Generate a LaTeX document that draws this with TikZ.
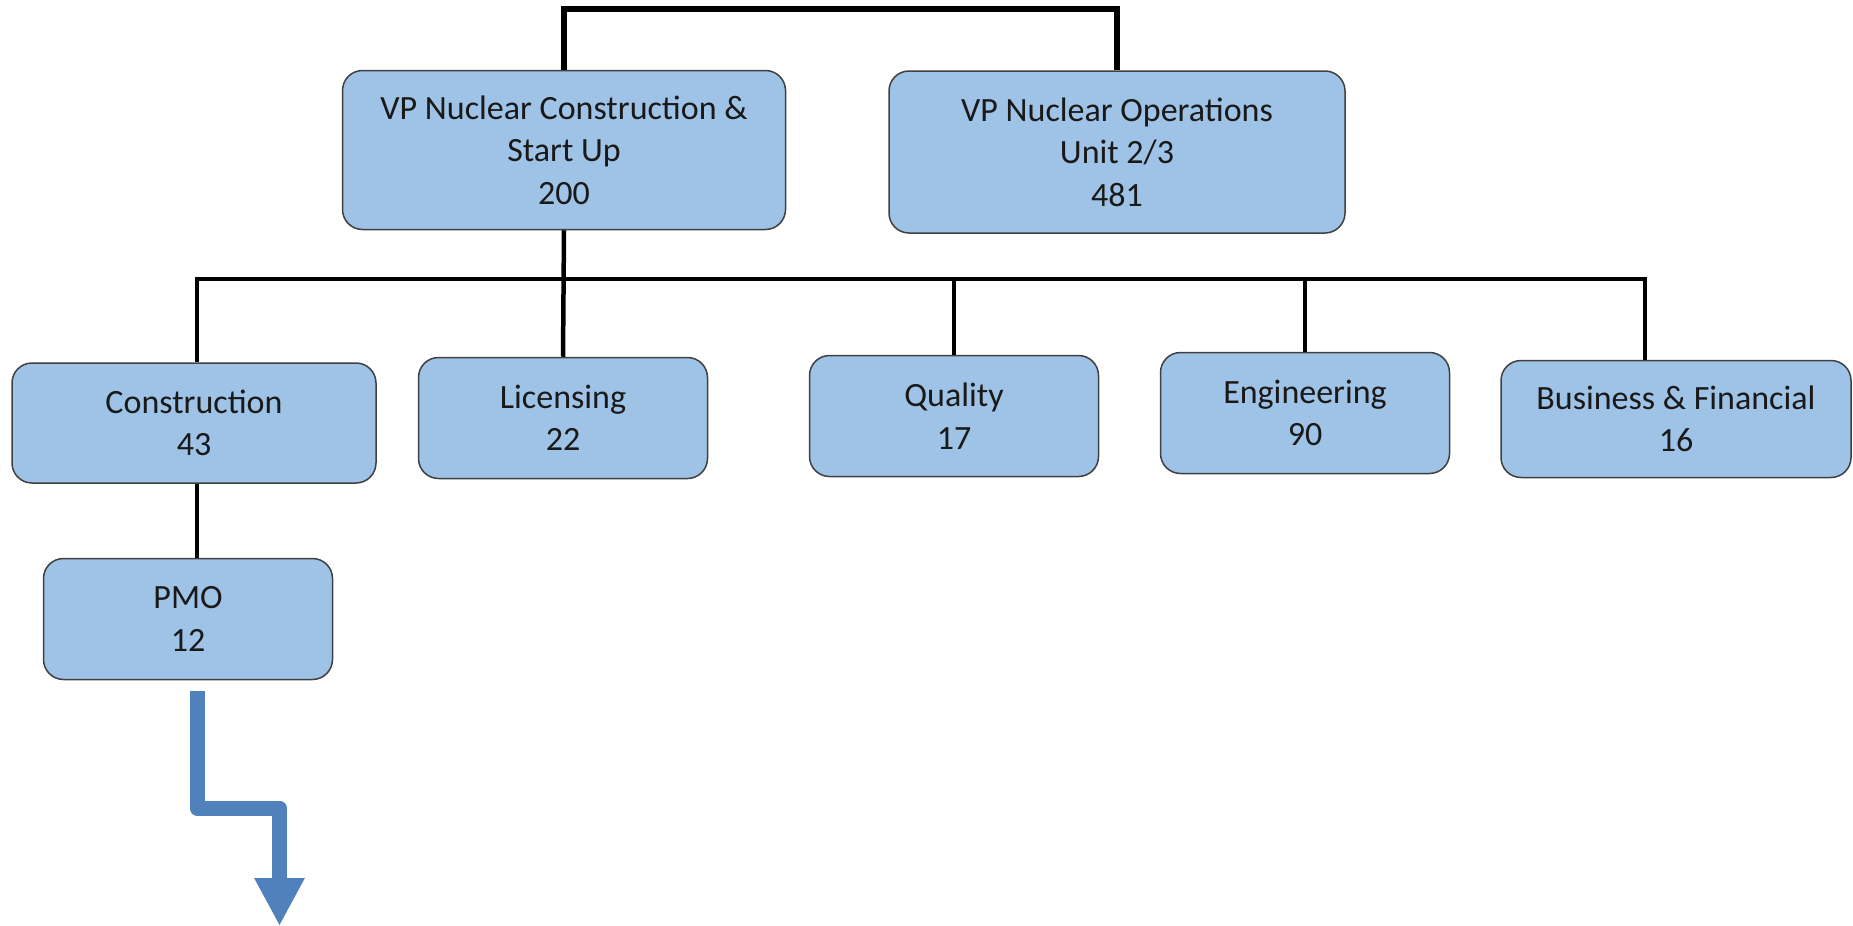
\documentclass[tikz,border=0pt]{standalone}
\usepackage{fontspec}
\setmainfont{Carlito}
\usetikzlibrary{arrows.meta}
\definecolor{boxblue}{RGB}{158,195,230}
\definecolor{flowblue}{RGB}{79,129,189}

\begin{document}
\begin{tikzpicture}[x=1pt, y=-1pt,
    unit/.style={draw=black!75, line width=1.5pt, fill=boxblue, rounded corners=20pt,
      align=center, inner sep=0pt, text=black!90, font=\fontsize{34}{42.5}\selectfont},
    dept/.style={unit, minimum width=289pt, minimum height=121pt},
    link/.style={line width=4.5pt},
    flow/.style={draw=flowblue, line width=15pt, line join=round,
      -{Triangle[width=47pt, length=48pt]}}]
  \useasboundingbox (0,0) rectangle (1853,926);
  % vice presidents
  \node[unit, minimum width=443pt, minimum height=159pt] (vpc) at (564,150)
    {VP Nuclear Construction \&\\Start Up\\200};
  \node[unit, minimum width=456pt, minimum height=162pt] (vpo) at (1117,152)
    {VP Nuclear Operations\\Unit 2/3\\481};
  % departments
  \node[unit, minimum width=364pt, minimum height=120pt] (con) at (194,423) {Construction\\43};
  \node[dept] (lic) at (563,418) {Licensing\\22};
  \node[dept] (qua) at (954,416) {Quality\\17};
  \node[dept] (eng) at (1305,413) {Engineering\\90};
  \node[unit, minimum width=350pt, minimum height=117pt] (bf) at (1676,419) {Business \& Financial\\16};
  \node[dept] (pmo) at (188,619) {PMO\\12};
  \coordinate (bus) at (0,279);
  \coordinate (flowtop) at (197,691);
  \coordinate (flowend) at (279.5,926);
  % connectors
  \draw[link, line width=6pt] (vpc.north) -- ++(0,-61) -| (vpo.north);
  \draw[link] (vpc.south) -- (lic.north);
  \draw[link] ([xshift=3pt]con.north) |- ([xshift=-31pt]bf.north |- bus) -- ([xshift=-31pt]bf.north);
  \foreach \n in {qua, eng}
    \draw[link] (\n.north) -- (\n.north |- bus);
  \draw[link] ([xshift=3pt]con.south) -- ([xshift=3pt]con.south |- pmo.north);
  \draw[flow] (flowtop) -- ++(0,117) -| (flowend);
\end{tikzpicture}
\end{document}
